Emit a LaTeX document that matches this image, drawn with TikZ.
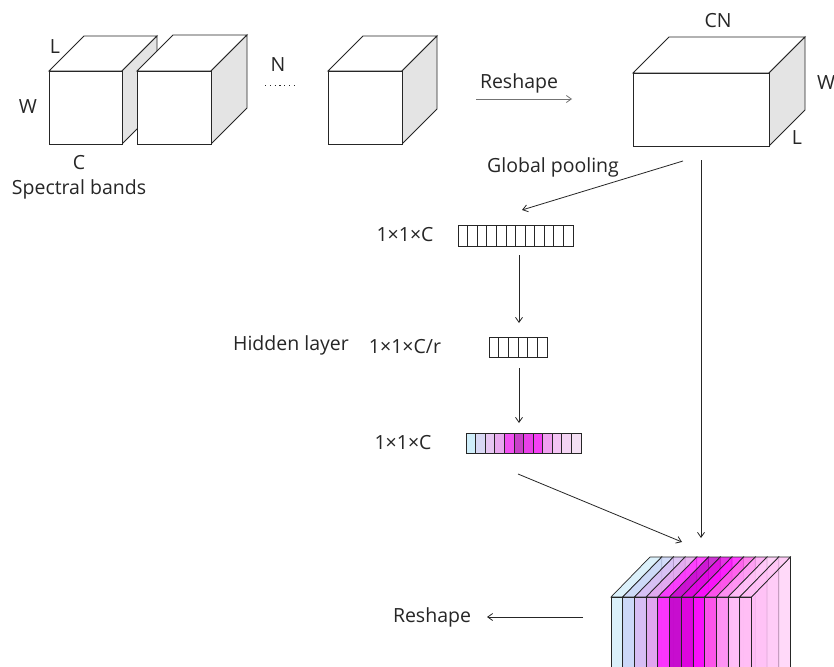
\documentclass[tikz,border=0pt]{standalone}
\usepackage{fontspec}
\setmainfont{Open Sans}
\usetikzlibrary{arrows.meta}
\definecolor{ink}{HTML}{262626}
\definecolor{sideg}{HTML}{E4E4E4}
% vector 3 colours
\definecolor{v1}{HTML}{CFEEFA}
\definecolor{v2}{HTML}{D8D8F4}
\definecolor{v3}{HTML}{E6C6F2}
\definecolor{v4}{HTML}{E8A8EE}
\definecolor{v5}{HTML}{F050F0}
\definecolor{v6}{HTML}{C840C8}
\definecolor{v7}{HTML}{E840E8}
\definecolor{v8}{HTML}{F440F4}
\definecolor{v9}{HTML}{F0A0F0}
\definecolor{v10}{HTML}{F4C4F4}
\definecolor{v11}{HTML}{F4D4F4}
\definecolor{v12}{HTML}{F4E0F4}
% stack colours
\definecolor{s1}{HTML}{D4EEFA}
\definecolor{s2}{HTML}{C8D4F8}
\definecolor{s3}{HTML}{D8B8F4}
\definecolor{s4}{HTML}{E4A0EE}
\definecolor{s5}{HTML}{FF20FF}
\definecolor{s6}{HTML}{C000C8}
\definecolor{s7}{HTML}{E000E0}
\definecolor{s8}{HTML}{FF10FF}
\definecolor{s9}{HTML}{FF60E8}
\definecolor{s10}{HTML}{FFA0F4}
\definecolor{s11}{HTML}{FFC8F8}
\definecolor{s12}{HTML}{FFC0F6}
\newcommand\mycube[5]{% x y w h d
  \draw[cubeline, fill=white] (#1,#2) -- ++(#5,-#5) -- ++(#3,0) -- ++(-#5,#5) -- cycle;
  \draw[cubeline, fill=sideg] ({#1+#3},#2) -- ++(#5,-#5) -- ++(0,#4) -- ++(-#5,#5) -- cycle;
  \draw[cubeline, fill=white] (#1,#2) rectangle ++(#3,#4);
}
\begin{document}
\begin{tikzpicture}[x=1pt,y=-1pt,
  cubeline/.style={draw=ink, line width=0.9pt},
  lbl/.style={text=ink, font=\fontsize{19.5}{22}\selectfont, inner sep=0pt},
  conn/.style={draw=ink, line width=0.8pt, -{Straight Barb[length=5pt,width=7pt]}},
  cell/.style={draw=ink, line width=0.8pt},
  slice/.style={draw=ink, line width=0.7pt}
]
\useasboundingbox (0,0) rectangle (834,666);
\fill[white] (0,0) rectangle (834,666);

% --- input cubes
\mycube{49}{71}{73}{73}{35}
\mycube{137}{71}{74}{73}{36}
\mycube{328}{71}{74}{73}{35}
\node[lbl] (lL) at (55,47) {L};
\node[lbl] (lW) at (28,107) {W};
\node[lbl] (lC) at (79,163) {C};
\node[lbl] (lSB) at (79,189) {Spectral bands};
\node[lbl] (lN) at (278,65) {N};
\coordinate (dA) at (265,86);
\coordinate (dB) at (294,86);
\draw[ink, line width=1pt, dash pattern=on 1.2pt off 3.6pt] (dA) -- (dB);

% --- reshape (top)
\node[lbl] (rs1) at (519,83) {Reshape};
\coordinate (r1a) at (476,99);
\coordinate (r1b) at (572,99);
\draw[conn, draw=black!55] (r1a) -- (r1b);

% --- big box
\mycube{633}{73}{136}{73}{36}
\node[lbl] (lCN) at (718,21) {CN};
\node[lbl, anchor=west] (lW2) at (817,83) {W};
\node[lbl] (lL2) at (797,138) {L};
\node[lbl] (gp) at (553,167) {Global pooling};

% --- vector 1
\foreach \k in {0,...,11} {
  \draw[cell, fill=white] ({458+\k*115/12},225) rectangle ++(115/12,21);
}
\node[lbl] (lv1) at (405,235) {1×1×C};
% --- vector 2
\foreach \k in {0,...,5} {
  \draw[cell, fill=white] ({489+\k*58/6},337) rectangle ++(58/6,20);
}
\node[lbl] (lhl) at (291,345) {Hidden layer};
\node[lbl] (lv2) at (405,347) {1×1×C/r};
% --- vector 3
\foreach \c [count=\k from 0] in {v1,v2,v3,v4,v5,v6,v7,v8,v9,v10,v11,v12} {
  \draw[cell, fill=\c] ({466+\k*115/12},433) rectangle ++(115/12,20);
}
\node[lbl] (lv3) at (403,443) {1×1×C};

% --- stack
\begin{scope}
\clip (0,0) rectangle (834,666);
\foreach \c [count=\k from 0] in {s1,s2,s3,s4,s5,s6,s7,s8,s9,s10,s11,s12} {
  \pgfmathsetmacro\xx{611+\k*11.7}
  \draw[slice, fill=\c, fill opacity=0.6] ({\xx+11.7},597) -- ++(39,-40) -- ++(0,150) -- ++(-39,40) -- cycle;
  \draw[slice, fill=\c, fill opacity=0.8] (\xx,597) -- ++(39,-40) -- ++(11.7,0) -- ++(-39,40) -- cycle;
  \draw[slice, fill=\c, fill opacity=0.85] (\xx,597) rectangle ++(11.7,110);
}
\end{scope}

% --- connectors
\coordinate (gpA) at (683,161);
\coordinate (gpB) at (522,210);
\draw[conn] (gpA) -- (gpB);
\coordinate (skA) at (701,160);
\coordinate (skB) at (701,538);
\draw[conn] (skA) -- (skB);
\coordinate (a1) at (519,255);
\coordinate (b1) at (519,323);
\draw[conn] (a1) -- (b1);
\coordinate (a2) at (519,368);
\coordinate (b2) at (519,423);
\draw[conn] (a2) -- (b2);
\coordinate (a3) at (518,474);
\coordinate (b3) at (682,542);
\draw[conn] (a3) -- (b3);

\node[lbl] (rs2) at (432,617) {Reshape};
\coordinate (r2a) at (583,617);
\coordinate (r2b) at (487,617);
\draw[conn] (r2a) -- (r2b);
\end{tikzpicture}
\end{document}
